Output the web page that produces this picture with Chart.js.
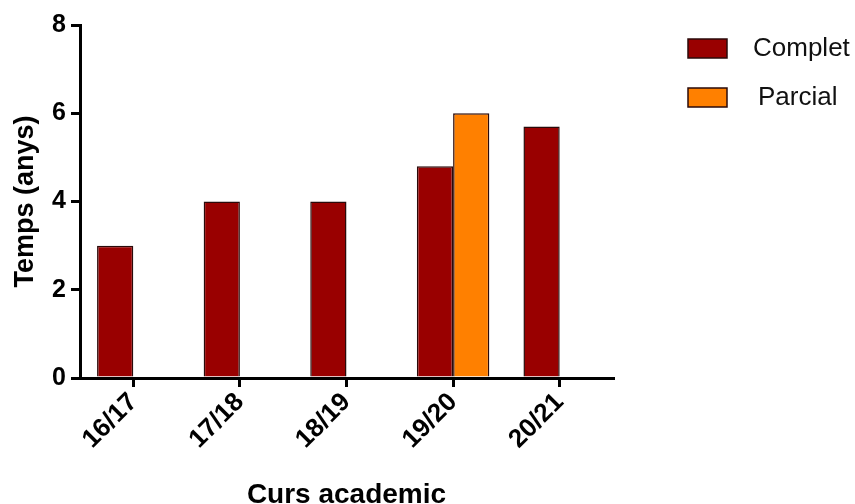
<!DOCTYPE html>
<html>
<head>
<meta charset="utf-8">
<script src="https://cdn.jsdelivr.net/npm/chart.js@4.4.1/dist/chart.umd.min.js"></script>
<style>
  html, body { margin: 0; padding: 0; background: #fff; }
  #wrap { width: 855px; height: 504px; }
</style>
</head>
<body>
<div id="wrap"><canvas id="tempsChart"></canvas></div>
<script>
// curs academic
const cursos = ['16/17', '17/18', '18/19', '19/20', '20/21'];
// temps (anys)
const complet = [3, 4, 4, 4.8, 5.7];
const parcial = [null, null, null, 6, null];
const yTicks = [0, 2, 4, 6, 8];

const FONT = "'Liberation Sans', Arial, Helvetica, sans-serif";

// legend drawn at the right, outside the plot
const sideLegend = {
    id: 'sideLegend',
    afterDraw(chart) {
        const ctx = chart.ctx;
        ctx.save();
        ctx.font = '26px ' + FONT;
        ctx.textBaseline = 'middle';
        chart.data.datasets.forEach((ds, i) => {
            const y = 39 + i * 49;
            ctx.fillStyle = ds.backgroundColor;
            ctx.fillRect(688, y, 39, 19);
            ctx.strokeStyle = ds.borderColor;
            ctx.lineWidth = 1.5;
            ctx.strokeRect(688, y, 39, 19);
            ctx.fillStyle = '#111';
            ctx.fillText(ds.label, 753 + i * 5, y + 10);
        });
        ctx.restore();
    }
};

new Chart(document.getElementById('tempsChart'), {
    type: 'bar',
    data: {
        labels: cursos,
        datasets: [{
            label: 'Complet',
            data: complet,
            backgroundColor: '#990000',
            borderColor: '#2a0a0a',
            borderWidth: 1.5
        }, {
            label: 'Parcial',
            data: parcial,
            backgroundColor: '#ff8000',
            borderColor: '#2a0a0a',
            borderWidth: 1.5
        }]
    },
    options: {
        responsive: true,
        maintainAspectRatio: false,
        animation: false,
        categoryPercentage: 0.68,
        barPercentage: 1,
        layout: { padding: { top: 25, right: 242, left: 0, bottom: 0 } },
        plugins: {
            legend: { display: false },
            tooltip: { enabled: false }
        },
        scales: {
            x: {
                grid: {
                    offset: false,
                    drawOnChartArea: false,
                    drawTicks: true,
                    tickLength: 9,
                    color: '#000',
                    lineWidth: 3
                },
                border: { display: true, color: '#000', width: 3 },
                ticks: {
                    color: '#000',
                    font: { family: FONT, size: 26, weight: 'bold' },
                    maxRotation: 45,
                    minRotation: 45,
                    padding: 0
                },
                title: {
                    display: true,
                    text: 'Curs academic',
                    color: '#000',
                    font: { family: FONT, size: 28, weight: 'bold' },
                    padding: { top: 0, bottom: -8 }
                },
                afterFit: s => { s.height = 126; }
            },
            y: {
                min: 0,
                max: 8,
                afterBuildTicks: s => { s.ticks = yTicks.map(v => ({ value: v })); },
                grid: {
                    drawOnChartArea: false,
                    drawTicks: true,
                    tickLength: 9,
                    color: '#000',
                    lineWidth: 3
                },
                border: { display: true, color: '#000', width: 3 },
                ticks: {
                    color: '#000',
                    font: { family: FONT, size: 25, weight: 'bold' },
                    padding: 5
                },
                title: {
                    display: true,
                    text: 'Temps (anys)',
                    color: '#000',
                    font: { family: FONT, size: 27, weight: 'bold' },
                    padding: { top: 9, bottom: 0 }
                },
                afterFit: s => { s.width = 80; }
            }
        }
    },
    plugins: [sideLegend]
});
</script>
</body>
</html>
